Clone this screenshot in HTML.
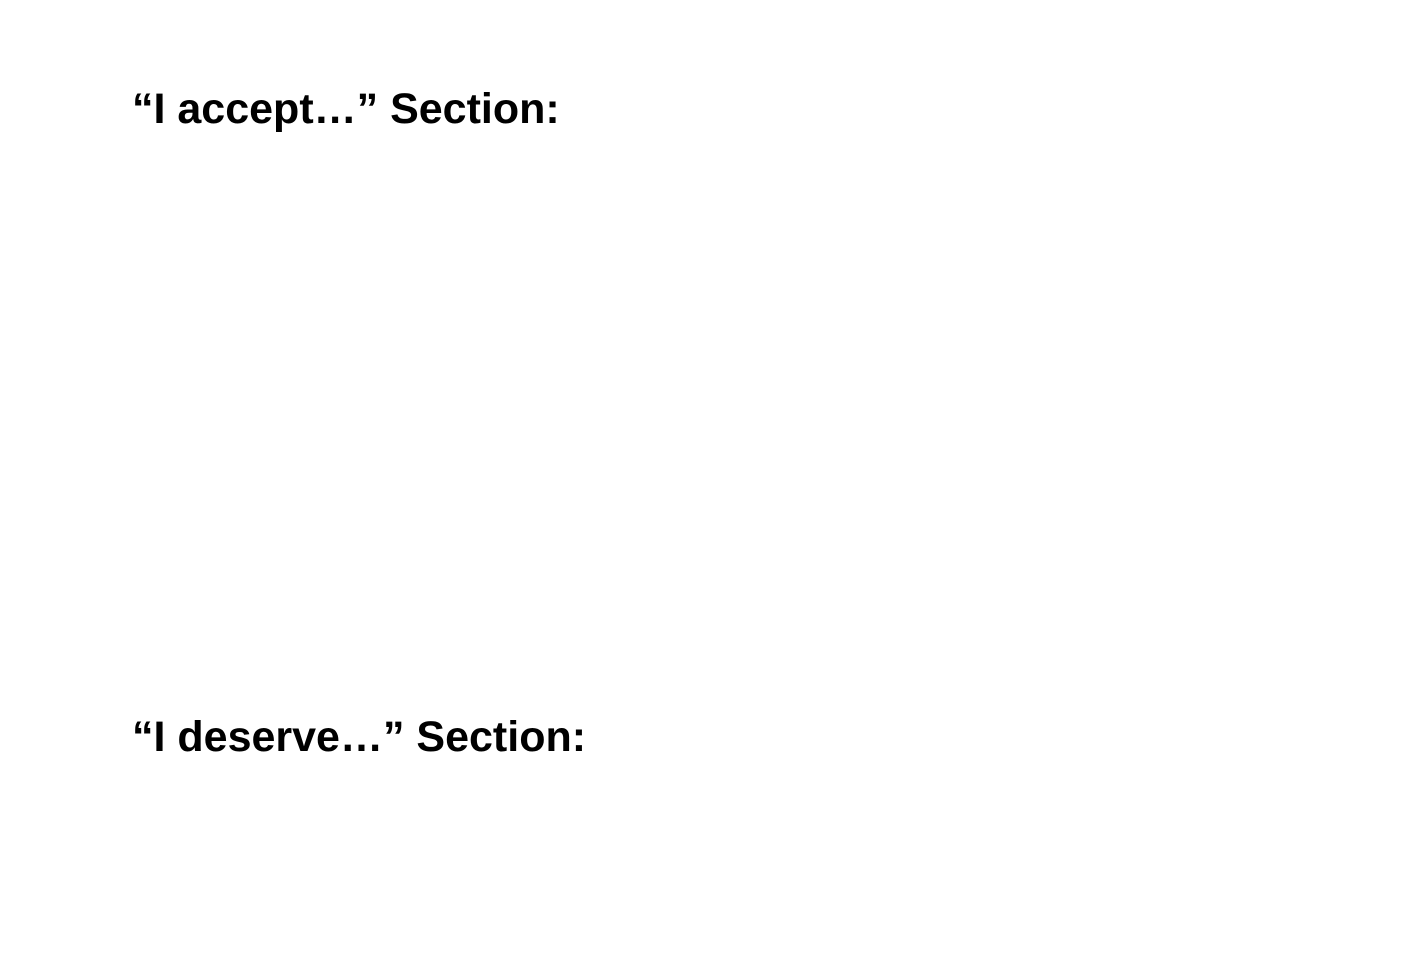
<!DOCTYPE html>
<html><head><meta charset="utf-8"><style>
html,body{margin:0;padding:0;background:#fff;width:1428px;height:958px;overflow:hidden;position:relative}
.h{position:absolute;left:132px;font-family:"Liberation Sans",Arial,sans-serif;font-weight:bold;font-size:43px;line-height:43px;color:#000;white-space:nowrap;margin:0}
</style></head><body>
<div class="h" style="top:88px">“I accept…” Section:</div>
<div class="h" style="top:716px">“I deserve…” Section:</div>
</body></html>
